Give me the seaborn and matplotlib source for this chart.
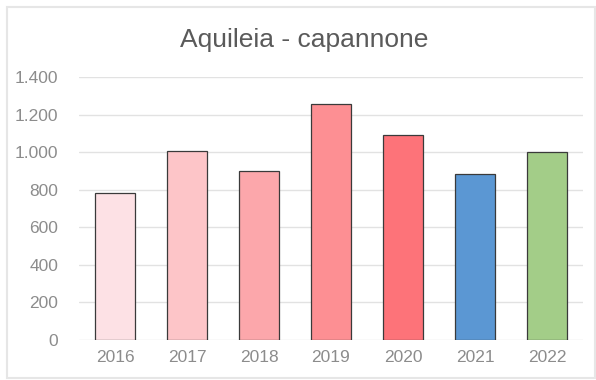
import matplotlib
matplotlib.use("Agg")
import matplotlib.pyplot as plt
import matplotlib.patches as mpatches
from matplotlib.ticker import FuncFormatter
import seaborn as sns
import pandas as pd

# Data
years = ["2016", "2017", "2018", "2019", "2020", "2021", "2022"]
values = [785, 1006, 898, 1258, 1091, 886, 1000]
bar_colors = ["#fde1e5", "#fdc5c8", "#fca7ab", "#fd8f93", "#fd7379", "#5b97d3", "#a3cd88"]
title = "Aquileia - capannone"
y_ticks = [0, 200, 400, 600, 800, 1000, 1200, 1400]

df = pd.DataFrame({"anno": years, "valore": values})

sns.set_theme(style="white")
plt.rcParams["font.family"] = ["Liberation Sans", "DejaVu Sans"]

fig = plt.figure(figsize=(5.96, 3.80), dpi=100)
ax = fig.add_axes([79 / 596, 1 - 340 / 380, (583 - 79) / 596, (340 - 77) / 380])

sns.barplot(data=df, x="anno", y="valore", hue="anno", palette=bar_colors,
            legend=False, width=0.56, edgecolor="#3a3a3a", linewidth=0.9,
            saturation=1, ax=ax)

ax.set_ylim(0, 1400)
ax.set_yticks(y_ticks)
ax.yaxis.set_major_formatter(FuncFormatter(lambda v, _: f"{int(v):,}".replace(",", ".")))
ax.grid(axis="y", color="#e2e2e2", linewidth=1)
ax.set_axisbelow(True)
for s in ax.spines.values():
    s.set_visible(False)
ax.set_xlabel("")
ax.set_ylabel("")
ax.tick_params(axis="both", length=0, colors="#8c8c8c", labelsize=12.5)
ax.tick_params(axis="y", pad=15)
ax.tick_params(axis="x", pad=7)

fig.text(0.51, 1 - 40 / 380, title, ha="center", va="center",
         fontsize=19, color="#5a5a5a")

# Faint chart frame
fig.patches.append(mpatches.Rectangle((7 / 596, 2 / 380), 588 / 596, 371 / 380,
                                      transform=fig.transFigure, fill=False,
                                      edgecolor="#e6e6e6", linewidth=1.5))

fig.savefig("out.png", dpi=100)
